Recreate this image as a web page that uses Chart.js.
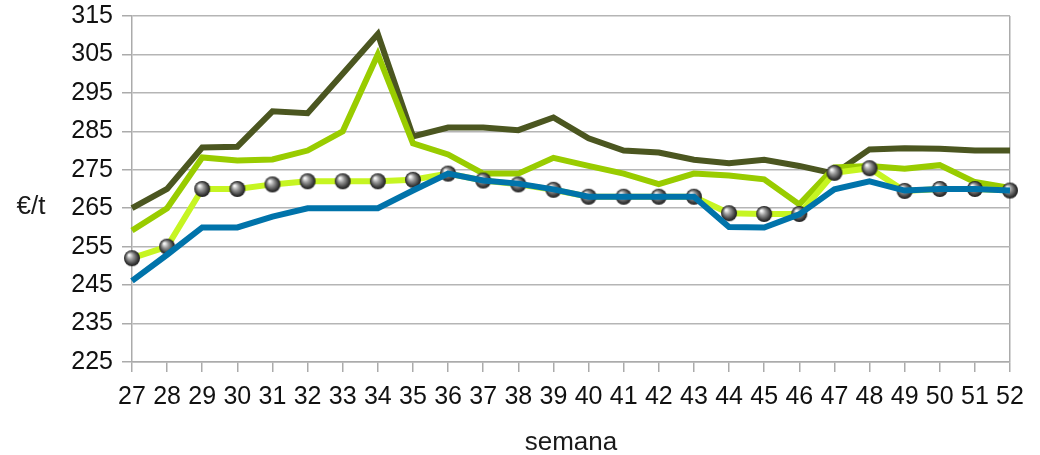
<!DOCTYPE html>
<html>
<head>
<meta charset="utf-8">
<script src="https://cdn.jsdelivr.net/npm/chart.js@4"></script>
<style>
  html, body { margin: 0; padding: 0; background: #fff; }
  #wrap { width: 1040px; height: 455px; position: relative; }
</style>
</head>
<body>
<div id="wrap"><canvas id="precios"></canvas></div>
<script>
// weeks on the x axis
const semanas = ["27", "28", "29", "30", "31", "32", "33", "34", "35", "36", "37", "38", "39",
    "40", "41", "42", "43", "44", "45", "46", "47", "48", "49", "50", "51", "52"];

// €/t per series
const serieOscura = [265, 270, 280.8, 281, 290.2, 289.7, 300, 310.3, 283.7, 286, 286, 285.3, 288.6,
    283.2, 280, 279.5, 277.6, 276.7, 277.6, 276, 274, 280.3, 280.6, 280.5, 280, 280];
const serieVerde = [259.2, 265, 278.2, 277.4, 277.7, 280, 285, 305, 281.9, 279, 274, 274, 278.1,
    276, 274, 271.3, 274, 273.5, 272.5, 266, 275.6, 276, 275.3, 276.2, 271.8, 270.3];
const serieClara = [252, 255, 270, 270, 271.2, 272, 272, 272, 272.4, 274, 272.2, 271.2, 269.8,
    268, 268, 268, 268, 263.7, 263.5, 263.5, 274.2, 275.4, 269.5, 270, 270, 269.6];
const serieAzul = [246.1, 252.9, 260, 260, 262.8, 265, 265, 265, 269.6, 274, 272.2, 271.4, 269.9,
    268, 268, 268, 268, 260.1, 260, 263.4, 269.9, 272, 269.6, 270, 270, 269.6];

// y axis ticks
const yMin = 225, yMax = 315, yPaso = 10;

const fuente = "'Liberation Sans', Arial, sans-serif";
const gris = '#ababab';

// little grey sphere used as the marker
function esfera(r) {
    const c = document.createElement('canvas');
    c.width = c.height = r * 2 + 2;
    const g = c.getContext('2d');
    const cx = r + 1, cy = r + 1;
    const grad = g.createRadialGradient(cx - r * 0.35, cy - r * 0.4, r * 0.1, cx, cy, r);
    grad.addColorStop(0, '#f4f4f4');
    grad.addColorStop(0.35, '#9a9a9a');
    grad.addColorStop(0.8, '#3c3c3c');
    grad.addColorStop(1, '#1c1c1c');
    g.fillStyle = grad;
    g.beginPath();
    g.arc(cx, cy, r, 0, Math.PI * 2);
    g.fill();
    return c;
}

// "€/t" written horizontally left of the axis
const tituloY = {
    id: 'tituloY',
    afterDraw(chart) {
        const ctx = chart.ctx;
        const y = chart.scales.y;
        ctx.save();
        ctx.font = "26px " + fuente;
        ctx.fillStyle = '#1a1a1a';
        ctx.textAlign = 'center';
        ctx.textBaseline = 'middle';
        ctx.fillText('€/t', 31, y.getPixelForValue(265) - 1);
        ctx.restore();
    }
};

new Chart("precios", {
    type: "line",
    data: {
        labels: semanas,
        datasets: [{
            data: serieOscura,
            borderColor: "#4b5620",
            borderWidth: 6,
            pointRadius: 0,
            order: 3
        }, {
            data: serieVerde,
            borderColor: "#99cc00",
            borderWidth: 6,
            pointRadius: 0,
            order: 2
        }, {
            data: serieClara,
            borderColor: "#c6f522",
            borderWidth: 6,
            pointStyle: esfera(8),
            pointRadius: 8,
            order: 1
        }, {
            data: serieAzul,
            borderColor: "#0073aa",
            borderWidth: 6,
            pointRadius: 0,
            order: 0
        }]
    },
    options: {
        responsive: true,
        maintainAspectRatio: false,
        animation: false,
        layout: { padding: { top: 16, right: 30, left: 0, bottom: 0 } },
        plugins: {
            legend: { display: false },
            tooltip: { enabled: false }
        },
        scales: {
            x: {
                afterFit: function (s) { s.height = 93; },
                grid: {
                    color: ctx => ctx.index === semanas.length - 1 ? gris : 'rgba(0,0,0,0)',
                    tickColor: gris,
                    tickLength: 10,
                    lineWidth: 1.5
                },
                border: { color: gris, width: 1.5 },
                ticks: {
                    color: '#111',
                    padding: 10,
                    maxRotation: 0,
                    autoSkip: false,
                    font: { family: fuente, size: 25 }
                },
                title: {
                    display: true,
                    text: 'semana',
                    color: '#1a1a1a',
                    padding: { top: 0, bottom: -3 },
                    font: { family: fuente, size: 26 }
                }
            },
            y: {
                min: yMin,
                max: yMax,
                afterFit: function (s) {
                    s.width = 132;
                    s.paddingTop = 0;
                    s.paddingBottom = 0;
                },
                grid: {
                    color: '#b5b5b5',
                    tickColor: gris,
                    tickLength: 10,
                    lineWidth: 1.5
                },
                border: { color: gris, width: 1.5 },
                ticks: {
                    stepSize: yPaso,
                    color: '#111',
                    padding: 9,
                    font: { family: fuente, size: 25 }
                }
            }
        }
    },
    plugins: [tituloY]
});
</script>
</body>
</html>
